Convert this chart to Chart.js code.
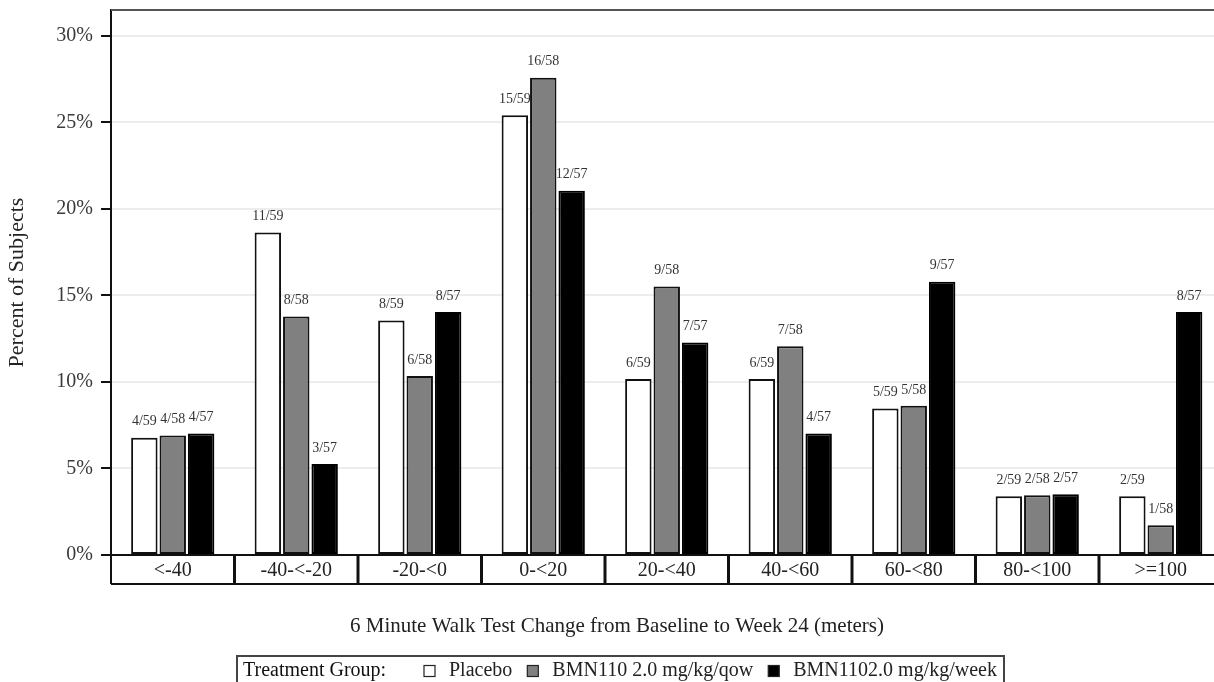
<!DOCTYPE html>
<html><head><meta charset="utf-8">
<script src="https://cdn.jsdelivr.net/npm/chart.js@4.4.1/dist/chart.umd.min.js"></script>
<style>html,body{margin:0;padding:0;background:#fff;overflow:hidden}
#wrap{width:1214px;height:682px;overflow:hidden;position:relative;background:#fff}
canvas{display:block}</style></head>
<body><div id="wrap"><canvas id="c" width="1240" height="682"></canvas></div>
<script>
// ---- data ----
const categories = ['<-40', '-40-<-20', '-20-<0', '0-<20', '20-<40', '40-<60', '60-<80', '80-<100', '>=100'];
const seriesNames = ['Placebo', 'BMN110 2.0 mg/kg/qow', 'BMN1102.0 mg/kg/week'];
const placeboPct = [6.78, 18.64, 13.56, 25.42, 10.17, 10.17, 8.47, 3.39, 3.39];
const qowPct     = [6.90, 13.79, 10.34, 27.59, 15.52, 12.07, 8.62, 3.45, 1.72];
const weekPct    = [7.02, 5.26, 14.04, 21.05, 12.28, 7.02, 15.79, 3.51, 14.04];
const placeboLabels = ['4/59', '11/59', '8/59', '15/59', '6/59', '6/59', '5/59', '2/59', '2/59'];
const qowLabels     = ['4/58', '8/58', '6/58', '16/58', '9/58', '7/58', '5/58', '2/58', '1/58'];
const weekLabels    = ['4/57', '3/57', '8/57', '12/57', '7/57', '4/57', '9/57', '2/57', '8/57'];
const yTickValues = [0, 5, 10, 15, 20, 25, 30];
const xAxisTitle = '6 Minute Walk Test Change from Baseline to Week 24 (meters)';
const yAxisTitle = 'Percent of Subjects';
const legendTitle = 'Treatment Group:';

const SERIF = "'Liberation Serif','Times New Roman','DejaVu Serif',serif";
const valueLabels = [placeboLabels, qowLabels, weekLabels];

const decor = {
  id: 'decor',
  afterDatasetsDraw(chart) {
    const ctx = chart.ctx;
    ctx.save();
    ctx.font = '14px ' + SERIF;
    ctx.fillStyle = '#333';
    ctx.textAlign = 'center';
    ctx.textBaseline = 'middle';
    chart.data.datasets.forEach((ds, di) => {
      const meta = chart.getDatasetMeta(di);
      meta.data.forEach((el, i) => {
        ctx.fillText(valueLabels[di][i], el.x, el.y - 16);
      });
    });
    ctx.restore();
  },
  afterDraw(chart) {
    const ctx = chart.ctx;
    const ca = chart.chartArea;
    const xs = chart.scales.x;
    ctx.save();
    // top border
    ctx.strokeStyle = '#555';
    ctx.lineWidth = 2;
    ctx.beginPath();
    ctx.moveTo(ca.left, ca.top); ctx.lineTo(ca.right + 20, ca.top);
    ctx.stroke();
    // category boxes
    const n = categories.length;
    const cw = (ca.right - ca.left) / n;
    const boxBottom = ca.bottom + 29;
    ctx.strokeStyle = '#111';
    ctx.lineWidth = 2;
    ctx.beginPath();
    ctx.moveTo(ca.left, ca.bottom); ctx.lineTo(ca.right + 20, ca.bottom);
    ctx.moveTo(ca.left, boxBottom); ctx.lineTo(ca.right + 20, boxBottom);
    ctx.stroke();
    for (let i = 0; i <= n; i++) {
      const bx = xs.getPixelForValue(i) - cw / 2;
      ctx.lineWidth = (i === 0) ? 2 : 3;
      ctx.beginPath();
      ctx.moveTo(bx, ca.bottom); ctx.lineTo(bx, boxBottom);
      ctx.stroke();
    }
    // x-axis title
    ctx.font = '21px ' + SERIF;
    ctx.fillStyle = '#222';
    ctx.textAlign = 'center';
    ctx.textBaseline = 'middle';
    ctx.fillText(xAxisTitle, 617, 626);
    // legend
    const lx0 = 237, lx1 = 1004, ly = 656;
    ctx.strokeStyle = '#444';
    ctx.lineWidth = 2;
    ctx.beginPath();
    ctx.moveTo(lx0, 690); ctx.lineTo(lx0, ly); ctx.lineTo(lx1, ly); ctx.lineTo(lx1, 690);
    ctx.stroke();
    const yc = 671;
    ctx.textAlign = 'left';
    ctx.fillStyle = '#111';
    ctx.font = '20px ' + SERIF;
    ctx.fillText(legendTitle, lx0 + 6, yc);
    let x = 424;
    chart.data.datasets.forEach((ds) => {
      ctx.fillStyle = ds.backgroundColor;
      ctx.fillRect(x, yc - 5.5, 11, 11);
      ctx.strokeStyle = '#222';
      ctx.lineWidth = 1.2;
      ctx.strokeRect(x, yc - 5.5, 11, 11);
      x += 25;
      ctx.fillStyle = '#222';
      ctx.fillText(ds.label, x, yc);
      x += ctx.measureText(ds.label).width + 15;
    });
    ctx.restore();
  }
};

new Chart(document.getElementById('c'), {
  type: 'bar',
  data: {
    labels: categories,
    datasets: [
      { label: seriesNames[0], data: placeboPct, backgroundColor: '#ffffff', borderColor: '#111', borderWidth: 2, borderSkipped: false },
      { label: seriesNames[1], data: qowPct, backgroundColor: '#808080', borderColor: '#111', borderWidth: 2, borderSkipped: false },
      { label: seriesNames[2], data: weekPct, backgroundColor: '#000000', borderColor: '#000', borderWidth: 2, borderSkipped: false }
    ]
  },
  options: {
    responsive: false,
    animation: false,
    devicePixelRatio: 1,
    events: [],
    categoryPercentage: 0.69,
    barPercentage: 0.93,
    layout: { padding: { left: 0, right: 17.5, top: 10, bottom: 0 } },
    plugins: { legend: { display: false }, tooltip: { enabled: false }, title: { display: false } },
    scales: {
      x: {
        type: 'category',
        grid: { display: false, drawTicks: false },
        border: { display: false },
        ticks: { font: { family: SERIF, size: 20 }, color: '#222', padding: 4, maxRotation: 0, autoSkip: false },
        afterFit(scale) { scale.height = 127; scale.paddingLeft = 0; scale.paddingRight = 0; }
      },
      y: {
        min: 0, max: 31.5,
        grid: { color: '#ededed', lineWidth: 2, tickColor: '#111', tickWidth: 2, tickLength: 10, drawTicks: true },
        border: { display: true, color: '#111', width: 2 },
        ticks: { stepSize: 5, font: { family: SERIF, size: 20 }, color: '#3a3a3a', padding: 8, callback: (v) => v + '%' },
        afterBuildTicks(scale) { scale.ticks = yTickValues.map(v => ({ value: v })); },
        title: { display: true, text: yAxisTitle, font: { family: SERIF, size: 22 }, color: '#222', padding: { top: 4, bottom: 0 } },
        afterFit(scale) { scale.width = 111; scale.paddingTop = 0; scale.paddingBottom = 0; }
      }
    }
  },
  plugins: [decor]
});
</script>
</body></html>
